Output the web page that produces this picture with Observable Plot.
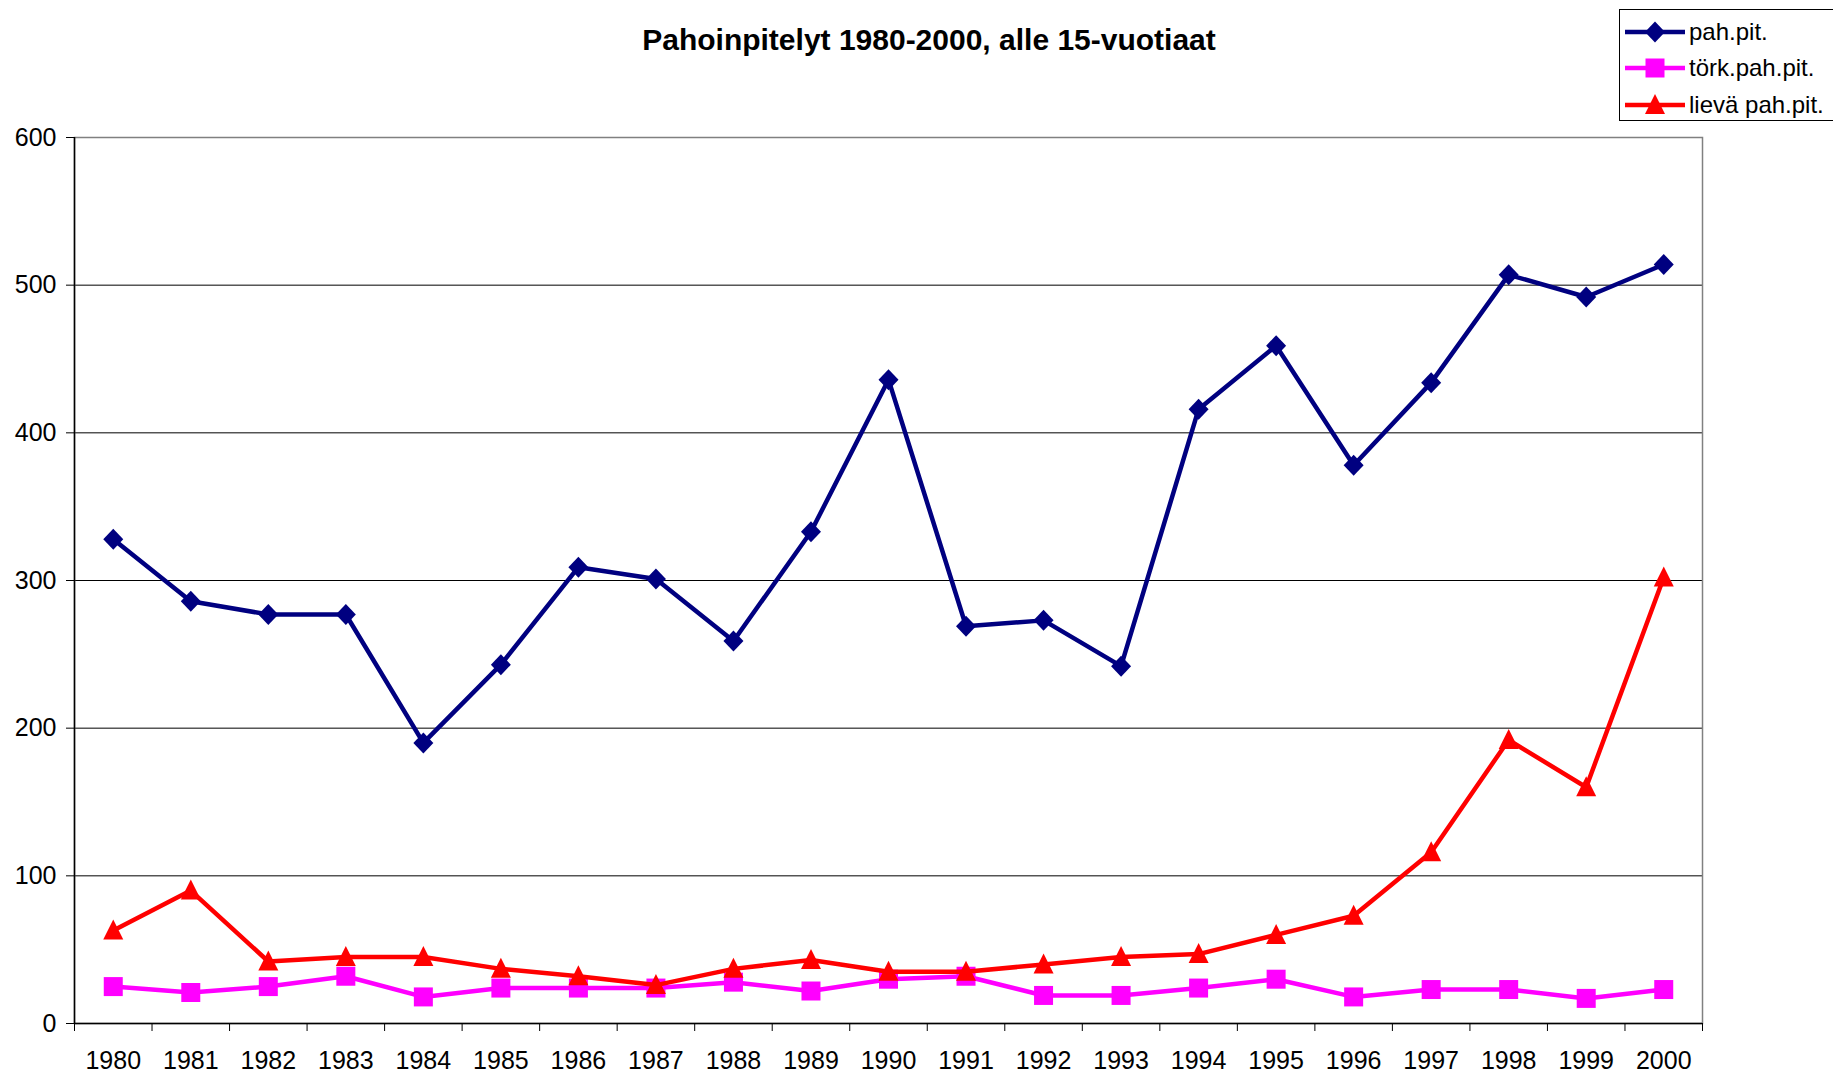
<!DOCTYPE html>
<html>
<head>
<meta charset="utf-8">
<script src="https://cdn.jsdelivr.net/npm/d3@7"></script>
<script src="https://cdn.jsdelivr.net/npm/@observablehq/plot@0.6"></script>
<style>
  html, body { margin: 0; padding: 0; background: #fff; }
  #wrap { position: relative; width: 1833px; height: 1074px; overflow: hidden; font-family: "Liberation Sans", Arial, sans-serif; }
  #title { position: absolute; left: 0; top: 23px; width: 1858px; text-align: center; font-weight: bold; font-size: 30px; color: #000; }
  #chart { position: absolute; left: 0; top: 0; }
  #legend { position: absolute; left: 1619px; top: 9px; width: 220px; height: 112px; border: 1px solid #000; background: #fff; box-sizing: border-box; }
  .row { position: absolute; left: 0; height: 36px; display: flex; align-items: center; font-size: 24px; color: #000; white-space: nowrap; }
  .row svg { margin-left: 5px; margin-right: 4px; }
</style>
</head>
<body>
<div id="wrap">
  <div id="chart"></div>
  <div id="title">Pahoinpitelyt 1980-2000, alle 15-vuotiaat</div>
  <div id="legend"></div>
</div>
<script>
// ---- data ----
const years = [1980,1981,1982,1983,1984,1985,1986,1987,1988,1989,1990,1991,1992,1993,1994,1995,1996,1997,1998,1999,2000];
const pahPit = [328,286,277,277,190,243,309,301,259,333,436,269,273,242,416,459,378,434,507,492,514];
const torkPahPit = [25,21,25,32,18,24,24,24,28,22,30,32,19,19,24,30,18,23,23,17,23];
const lievaPahPit = [63,90,42,45,45,37,32,26,37,43,35,35,40,45,47,60,73,116,192,160,302];
const seriesNames = ["pah.pit.", "törk.pah.pit.", "lievä pah.pit."];
const yTicks = [0,100,200,300,400,500,600];

// ---- styles ----
const colors = ["#000080", "#FF00FF", "#FF0000"];
const diamondSym = { draw(ctx) { ctx.moveTo(0,-10.5); ctx.lineTo(10,0); ctx.lineTo(0,10.5); ctx.lineTo(-10,0); ctx.closePath(); } };
const squareSym = { draw(ctx) { ctx.moveTo(-9.5,-9.5); ctx.lineTo(9.5,-9.5); ctx.lineTo(9.5,9.5); ctx.lineTo(-9.5,9.5); ctx.closePath(); } };
const triangleSym = { draw(ctx) { ctx.moveTo(0,-11); ctx.lineTo(10,9); ctx.lineTo(-10,9); ctx.closePath(); } };
const symbols = [diamondSym, squareSym, triangleSym];
const seriesValues = [pahPit, torkPahPit, lievaPahPit];

const rows = [];
seriesNames.forEach((name, s) => years.forEach((year, i) => rows.push({series: name, year, value: seriesValues[s][i]})));
const boundaries = years.map(y => y - 0.5).concat([years[years.length - 1] + 0.5]);
const xMin = years[0] - 0.5, xMax = years[years.length - 1] + 0.5;

const seriesMarks = [];
seriesNames.forEach((name, s) => {
  const d = rows.filter(r => r.series === name);
  seriesMarks.push(Plot.line(d, {x: "year", y: "value", stroke: colors[s], strokeWidth: 4.5, strokeLinejoin: "round"}));
  seriesMarks.push(Plot.dot(d, {x: "year", y: "value", symbol: symbols[s], fill: colors[s], stroke: "none", r: 8}));
});

const chart = Plot.plot({
  width: 1833,
  height: 1074,
  marginLeft: 74,
  marginRight: 131,
  marginTop: 137,
  marginBottom: 51,
  style: {fontFamily: "'Liberation Sans', Arial, sans-serif", fontSize: "25px", color: "#000", background: "transparent", overflow: "visible"},
  x: {type: "linear", domain: [xMin, xMax], axis: null},
  y: {domain: [0, 600], axis: null},
  marks: [
    Plot.ruleY(yTicks.filter(v => v > 0 && v < 600), {stroke: "#000", strokeWidth: 1}),
    Plot.frame({stroke: "#808080", strokeWidth: 1.5}),
    Plot.ruleX([xMin], {stroke: "#000", strokeWidth: 1.5}),
    Plot.ruleY([0], {stroke: "#000", strokeWidth: 1.5}),
    Plot.ruleY(yTicks, {x1: xMin, x2: xMin, insetLeft: -8, stroke: "#000", strokeWidth: 1}),
    Plot.ruleX(boundaries, {y1: 0, y2: 0, insetBottom: -8, stroke: "#000", strokeWidth: 1}),
    Plot.text(yTicks, {x: xMin, y: d => d, text: d => String(d), textAnchor: "end", dx: -18, fontSize: 25, fill: "#000"}),
    Plot.text(years, {x: d => d, y: 0, text: d => String(d), dy: 37, fontSize: 25, fill: "#000"}),
    ...seriesMarks
  ]
});
document.getElementById("chart").appendChild(chart);

// ---- legend ----
const legend = document.getElementById("legend");
const rowTops = [4, 40, 77];
seriesNames.forEach((name, s) => {
  const row = document.createElement("div");
  row.className = "row";
  row.style.top = rowTops[s] + "px";
  const svg = d3.create("svg").attr("width", 60).attr("height", 30);
  svg.append("line").attr("x1", 0).attr("x2", 60).attr("y1", 15).attr("y2", 15).attr("stroke", colors[s]).attr("stroke-width", 4.5);
  svg.append("path").attr("transform", "translate(30,15)").attr("fill", colors[s]).attr("d", d3.symbol().type(symbols[s])());
  row.appendChild(svg.node());
  const span = document.createElement("span");
  span.textContent = name;
  row.appendChild(span);
  legend.appendChild(row);
});
</script>
</body>
</html>
